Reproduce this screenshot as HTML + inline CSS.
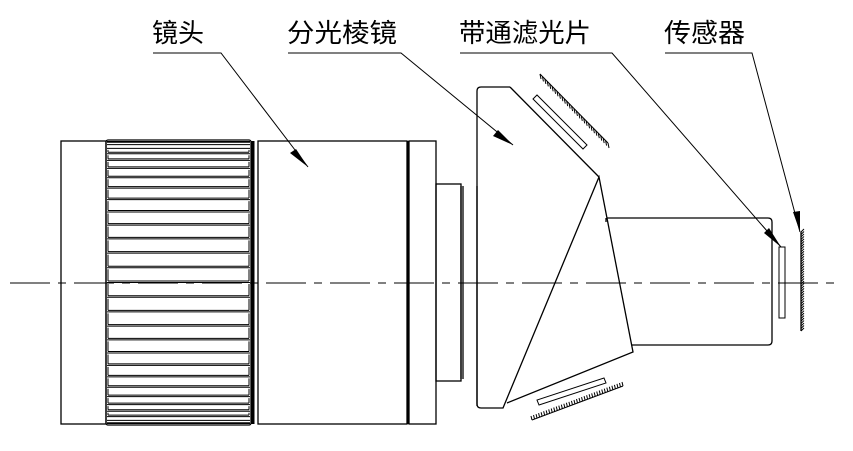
<!DOCTYPE html>
<html><head><meta charset="utf-8"><style>
html,body{margin:0;padding:0;background:#fff;}
svg{display:block;}
text{font-family:"Liberation Sans","Noto Sans CJK SC","WenQuanYi Zen Hei",sans-serif;font-size:26px;fill:#000;}
</style></head><body>
<svg id="s" width="853" height="451" viewBox="0 0 853 451" xmlns="http://www.w3.org/2000/svg" stroke="#000" fill="none" stroke-width="1.3">
<text x="152" y="42" stroke="none">镜头</text>
<text x="287" y="42" stroke="none" textLength="110" lengthAdjust="spacingAndGlyphs">分光棱镜</text>
<text x="459" y="42" stroke="none" textLength="132" lengthAdjust="spacingAndGlyphs">带通滤光片</text>
<text x="664" y="42" stroke="none" textLength="81" lengthAdjust="spacingAndGlyphs">传感器</text>
<g stroke-width="1">
<polyline points="153,53 221,53 308,167"/>
<polyline points="288,53 401,53 513,145"/>
<polyline points="460,53 612,53 781,247"/>
<polyline points="665,53 752,53 800,232"/>
</g>
<g fill="#000" stroke="none">
<polygon points="308,167 290,153 296,149"/>
<polygon points="513,145 493,136 498,130"/>
<polygon points="781,247 764,233 769,228"/>
<polygon points="800,232 793,212 800,211"/>
</g>
<line x1="10" y1="283" x2="840" y2="283" stroke-dasharray="40,8,8,8" stroke-width="1"/>
<rect x="61" y="141" width="45" height="283"/>
<rect x="106" y="140" width="145" height="285" rx="2"/>
<line x1="253" y1="141" x2="253" y2="424" stroke-width="3"/>
<rect x="258" y="141" width="149" height="283"/>
<line x1="408" y1="141" x2="408" y2="424" stroke-width="3"/>
<rect x="409" y="141" width="27" height="283"/>
<rect x="436" y="184" width="25" height="197"/>
<line x1="461" y1="186" x2="461" y2="379"/>
<line x1="463" y1="186" x2="463" y2="379"/>
<line x1="477" y1="186" x2="477" y2="406"/>
<g id="knurl" stroke-width="1"></g>
<path d="M510,87 L481,87 Q477,87 477,91 L477,404 Q477,408 481,408 L503,408 L599,177 L633,352 L507,403"/>
<line x1="510" y1="87" x2="599" y2="177"/>
<path d="M607,218 L768,218 Q772,218 772,222 L772,341 Q772,345 768,345 L632,345"/>
<line x1="606" y1="218" x2="606" y2="222"/>
<polygon points="533,99 537,95 587,145 583,149" stroke-width="1"/>
<polygon points="539,405 537,400 604,378 606,383" stroke-width="1"/>
<rect x="779" y="247" width="6" height="71" stroke-width="1"/>
<line x1="801" y1="232" x2="801" y2="331"/>
<g id="hatch" stroke-width="1"></g>
</svg>
<script>
var k=document.getElementById('knurl'),h=document.getElementById('hatch'),ns='http://www.w3.org/2000/svg';
function L(g,a,b,c,d){var l=document.createElementNS(ns,'line');l.setAttribute('x1',a);l.setAttribute('y1',b);l.setAttribute('x2',c);l.setAttribute('y2',d);g.appendChild(l);}
var N=30,c=282.5,R=141;
for(var i=0;i<=N;i++){var y=c-R*Math.cos(i*Math.PI/N);L(k,107,y,250,y);if(i<N){var y2=c-R*Math.cos((i+1)*Math.PI/N);if(y2-y>4){L(k,108,y+1.5,108,y2-1.5);L(k,249,y+1.5,249,y2-1.5);L(k,108,y2-1.5,249,y2-1.5);}}}
function H(x1,y1,x2,y2,n,dx,dy){L(h,x1,y1,x2,y2);for(var i=0;i<=n;i++){var t=i/n,x=x1+(x2-x1)*t,y=y1+(y2-y1)*t;L(h,x,y,x+dx,y+dy);}}
H(540,74,608,143,28,1,5);
H(532,420,623,386,36,-1,-4);
H(801,232,801,331,40,3,-3);
</script>
</body></html>
